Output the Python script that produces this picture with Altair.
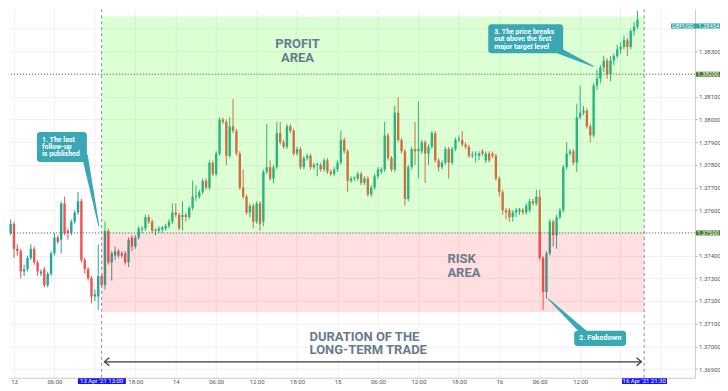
import altair as alt
import pandas as pd

# ---------------- data (GBPUSD, 30-minute candles) ----------------
open_p = [1.3750,1.3754,1.3743,1.3742,1.3733,1.3734,1.3739,1.3743,1.3737,1.3732,1.3734,
          1.3727,1.3732,1.3741,1.3748,1.3747,1.3763,1.3751,1.3750,1.3755,1.3759,
          1.3764,1.3738,1.3734,1.3730,1.3722,1.3722,1.3731,1.3727,1.3751,1.3737,
          1.3740,1.3742,1.3740,1.3741,1.3737,1.3748,1.3744,1.3748,1.37515,1.3752,
          1.3757,1.3755,1.3751,1.3751,1.37515,1.3752,1.3753,1.3755,1.3759,1.3758,
          1.3757,1.3758,1.3757,1.3761,1.3766,1.3766,1.3768,1.3773,1.3770,1.3781,
          1.3776,1.3785,1.3800,1.3799,1.3784,1.3797,1.3795,1.3785,1.3770,1.3766,
          1.3759,1.3762,1.3755,1.3763,1.3755,1.3777,1.3779,1.3774,1.3779,1.3794,
          1.3790,1.3788,1.3797,1.3795,1.3785,1.3787,1.3779,1.3783,1.3784,1.3779,
          1.3780,1.3780,1.3778,1.3782,1.3777,1.3776,1.3778,1.3781,1.3791,1.3786,
          1.3773,1.3774,1.3774,1.3776,1.3772,1.3774,1.3767,1.3770,1.3775,1.3777,
          1.3778,1.3793,1.3783,1.3778,1.3803,1.3791,1.3786,1.3765,1.3779,1.3787,
          1.3786,1.3786,1.3790,1.3785,1.3788,1.3794,1.3782,1.3779,1.3781,1.3787,
          1.3781,1.3787,1.3791,1.3791,1.3789,1.3788,1.3784,1.37845,1.3784,1.3786,
          1.3782,1.3785,1.3785,1.3784,1.3774,1.3768,1.3760,1.3760,1.3757,1.3759,
          1.37595,1.3760,1.3759,1.3760,1.3764,1.3763,1.3766,1.3739,1.3724,1.3741,
          1.3755,1.3749,1.3757,1.3760,1.3779,1.3785,1.3786,1.3781,1.3801,1.3803,
          1.3804,1.3797,1.3793,1.3815,1.3818,1.3823,1.3826,1.3820,1.3826,1.3828,
          1.3831,1.3832,1.3835,1.3832,1.3839,1.3841]
high_p = [1.3756,1.3755,1.3745,1.3743,1.3736,1.3740,1.3745,1.3744,1.3738,1.3734,1.3735,
          1.3733,1.3742,1.3750,1.3749,1.3764,1.3766,1.3752,1.3756,1.3760,1.3768,
          1.3765,1.3739,1.3735,1.3731,1.3725,1.3745,1.3732,1.3755,1.3752,1.3742,
          1.3744,1.3743,1.3742,1.3742,1.3748,1.3749,1.3749,1.3753,1.3753,1.3758,
          1.3758,1.3756,1.3752,1.3753,1.3753,1.3754,1.3756,1.3763,1.3763,1.3759,
          1.3764,1.3759,1.3762,1.3773,1.3771,1.3769,1.3774,1.3774,1.3782,1.3782,
          1.3786,1.3801,1.3801,1.3800,1.3801,1.3809,1.3796,1.3786,1.3778,1.3767,
          1.3763,1.3763,1.3764,1.3764,1.3778,1.3798,1.3782,1.3780,1.3799,1.3799,
          1.3791,1.3798,1.3798,1.3796,1.3788,1.3788,1.3784,1.3785,1.3785,1.3781,
          1.3781,1.3781,1.3783,1.3783,1.3778,1.3779,1.3782,1.3795,1.3792,1.3787,
          1.3775,1.3775,1.3777,1.3777,1.3775,1.3775,1.3771,1.3776,1.3779,1.3779,
          1.3799,1.3794,1.3784,1.3806,1.3810,1.3792,1.3787,1.3780,1.3788,1.3799,
          1.3808,1.3791,1.3791,1.3789,1.3795,1.3795,1.3783,1.3782,1.3788,1.3788,
          1.3788,1.3792,1.3793,1.3795,1.3790,1.3789,1.3786,1.3786,1.3786,1.3787,
          1.3786,1.3786,1.3786,1.3785,1.3775,1.3769,1.3761,1.3761,1.3760,1.3761,
          1.3761,1.3761,1.3763,1.3765,1.3765,1.3769,1.3769,1.3740,1.3742,1.3756,
          1.3756,1.3758,1.3761,1.3780,1.3790,1.3787,1.3787,1.3807,1.3815,1.3806,
          1.3805,1.3798,1.3816,1.3822,1.3824,1.3828,1.3827,1.3828,1.3829,1.3833,
          1.3834,1.3837,1.3836,1.3840,1.3843,1.3848]
low_p = [1.3749,1.3739,1.3740,1.3730,1.3731,1.3733,1.3738,1.3736,1.3731,1.3731,1.3726,
         1.3726,1.3731,1.3740,1.3745,1.3741,1.3749,1.3747,1.3749,1.3754,1.3758,
         1.3737,1.3732,1.3729,1.3719,1.3720,1.3716,1.3726,1.3725,1.3736,1.3729,
         1.3738,1.3739,1.3739,1.3736,1.3735,1.3742,1.3743,1.3747,1.3750,1.3751,
         1.3754,1.3750,1.3749,1.3750,1.3750,1.3751,1.3752,1.3754,1.3757,1.3751,
         1.3751,1.3755,1.3756,1.3760,1.3764,1.3765,1.3767,1.3769,1.3769,1.3775,
         1.3775,1.3784,1.3798,1.3780,1.3783,1.3794,1.3784,1.3769,1.3765,1.3758,
         1.3757,1.3752,1.3754,1.3751,1.3753,1.3776,1.3773,1.3772,1.3778,1.3789,
         1.3787,1.3787,1.3794,1.3784,1.3784,1.3778,1.3778,1.3782,1.3778,1.3778,
         1.3775,1.3777,1.3777,1.3776,1.3775,1.3775,1.3777,1.3780,1.3785,1.3768,
         1.3772,1.3773,1.3773,1.3771,1.3771,1.3766,1.3766,1.3769,1.3774,1.3776,
         1.3777,1.3782,1.3777,1.3777,1.3790,1.3785,1.3762,1.3764,1.3778,1.3780,
         1.3774,1.3785,1.3772,1.3780,1.3787,1.3781,1.3777,1.3778,1.3780,1.3774,
         1.3780,1.3786,1.3790,1.3788,1.3787,1.3783,1.3783,1.3781,1.3782,1.3784,
         1.3781,1.3781,1.3783,1.3773,1.3766,1.3758,1.3756,1.3755,1.3755,1.3757,
         1.3758,1.3758,1.3758,1.3759,1.3762,1.3762,1.3738,1.3716,1.3721,1.3740,
         1.3744,1.3743,1.3756,1.3759,1.3778,1.3784,1.3780,1.3777,1.3800,1.3802,
         1.3796,1.3790,1.3792,1.3813,1.3816,1.3821,1.3818,1.3817,1.3824,1.3827,
         1.3829,1.3831,1.3828,1.3831,1.3837,1.3840]
close_p = [1.3754,1.3743,1.3742,1.3733,1.3734,1.3739,1.3743,1.3737,1.3733,1.3733,1.3727,
           1.3732,1.3741,1.3748,1.3746,1.3763,1.3750,1.3750,1.3755,1.3759,1.3764,
           1.3738,1.3734,1.3730,1.3722,1.3723,1.3731,1.3727,1.3751,1.3737,1.3741,
           1.3742,1.3740,1.3741,1.3737,1.3747,1.3744,1.3748,1.3752,1.3752,1.3757,
           1.3755,1.3751,1.37515,1.3752,1.37525,1.3753,1.3755,1.3759,1.3758,1.3752,
           1.3758,1.3757,1.3761,1.3766,1.37665,1.3768,1.3773,1.3770,1.3781,1.3776,
           1.3785,1.3800,1.3799,1.3784,1.3797,1.3795,1.3785,1.3770,1.3766,1.3759,
           1.3762,1.3755,1.3763,1.3754,1.3777,1.3779,1.3774,1.3779,1.3794,1.3790,
           1.3788,1.3797,1.3795,1.3785,1.3787,1.3779,1.3783,1.3784,1.3779,1.3780,
           1.37805,1.3778,1.3782,1.3777,1.3776,1.3778,1.3781,1.3791,1.3786,1.3773,
           1.3774,1.37745,1.3776,1.3772,1.3774,1.3767,1.3770,1.3775,1.3778,1.3778,
           1.3793,1.3783,1.3778,1.3803,1.3791,1.3786,1.3765,1.3779,1.3787,1.3786,
           1.3787,1.3790,1.3785,1.3788,1.3794,1.3782,1.3779,1.3781,1.3787,1.3781,
           1.3787,1.3791,1.37915,1.3789,1.3788,1.3784,1.37845,1.3785,1.3785,1.3785,
           1.3785,1.3782,1.3784,1.3774,1.3768,1.3760,1.3759,1.3757,1.3759,1.3760,
           1.37605,1.3759,1.3762,1.3764,1.3763,1.3766,1.3739,1.3724,1.3741,1.3755,
           1.3749,1.3757,1.3760,1.3779,1.3785,1.3786,1.3781,1.3801,1.3803,1.3804,
           1.3797,1.3793,1.3815,1.3818,1.3823,1.3826,1.3820,1.3826,1.3828,1.3831,
           1.3832,1.3835,1.3832,1.3839,1.3841,1.3844]

times = pd.date_range("2021-04-12 23:30", periods=len(open_p), freq="30min").strftime("%Y-%m-%dT%H:%M:%S")

# labelled price ticks (1.375 / 1.382 / 1.384 are hidden behind the price tags)
price_ticks = [1.369, 1.370, 1.371, 1.372, 1.373, 1.374, 1.376, 1.377,
               1.378, 1.379, 1.380, 1.381, 1.383]
hidden_price_grid = [1.375, 1.382, 1.384]
# labelled time ticks (day, hour); some are hidden behind the date tags
time_ticks = [(13, 0), (13, 6), (13, 18), (14, 0), (14, 6), (14, 12), (14, 18),
              (15, 0), (15, 6), (15, 12), (15, 18), (16, 0), (16, 6), (16, 12)]
hidden_time_grid = ["2021-04-13T12:00:00", "2021-04-16T18:00:00", "2021-04-17T00:00:00"]

entry_time = "2021-04-13T13:00:00"
exit_time = "2021-04-16T21:30:00"
target_level = 1.382
entry_level = 1.375
profit_top = 1.38454
risk_bottom = 1.37152

df = pd.DataFrame({"t": times, "open": open_p, "high": high_p, "low": low_p, "close": close_p})
df["dir"] = ["up" if c >= o else "down" for o, c in zip(open_p, close_p)]

# ---------------- scales / axes ----------------
PLOT_W, PLOT_H = 687, 369
GRID = "#eef0f4"
x_scale = alt.Scale(domain=[alt.DateTime(year=2021, month=4, date=12, hours=23, minutes=15, seconds=33),
                            alt.DateTime(year=2021, month=4, date=17, hours=5, minutes=2, seconds=40)],
                    padding=0, nice=False)
y_scale = alt.Scale(domain=[1.368616, 1.384863], zero=False, nice=False, padding=0)

x_axis = alt.Axis(values=[alt.DateTime(year=2021, month=4, date=d, hours=h) for d, h in time_ticks],
                  labelExpr="hours(datum.value) == 0 ? timeFormat(datum.value, '%d') : timeFormat(datum.value, '%H:%M')",
                  grid=True, gridColor=GRID, ticks=False, domainColor="#c9ccd3",
                  labelColor="#50535e", labelFontSize=6, labelFont="Roboto", labelPadding=1,
                  labelBaseline="top", title=None, labelFlush=False, labelOverlap=False)
y_axis = alt.Axis(orient="right", values=price_ticks, format=".5f", grid=True, gridColor=GRID,
                  tickSize=2, tickColor="#b2b5be", domainColor="#c9ccd3", labelColor="#50535e",
                  labelFontSize=6, labelFont="Roboto", labelPadding=1.5, title=None, labelFlush=False)


def X(f):
    return alt.X(f, type="temporal", scale=x_scale, axis=x_axis, title=None)


def Y(f):
    return alt.Y(f, type="quantitative", scale=y_scale, axis=y_axis, title=None)


col = alt.Color("dir:N", scale=alt.Scale(domain=["up", "down"], range=["#26a69a", "#ef5350"]), legend=None)

# extra grid lines under the tags
grid_v = alt.Chart(pd.DataFrame({"t": hidden_time_grid})).mark_rule(color=GRID, strokeWidth=1).encode(x=X("t"))
grid_h = alt.Chart(pd.DataFrame({"p": hidden_price_grid})).mark_rule(color=GRID, strokeWidth=1).encode(y=Y("p"))

wicks = alt.Chart(df).mark_rule(strokeWidth=1).encode(x=X("t"), y=Y("low"), y2="high", color=col)
bodies = alt.Chart(df).mark_bar(width=2.4).encode(x=X("t"), y=Y("open"), y2="close", color=col)

# zones
profit_df = pd.DataFrame({"t1": [entry_time], "t2": [exit_time], "p1": [entry_level], "p2": [profit_top]})
risk_df = pd.DataFrame({"t1": [entry_time], "t2": [exit_time], "p1": [risk_bottom], "p2": [entry_level]})
profit = alt.Chart(profit_df).mark_rect(color="#33ff00", opacity=0.17).encode(x=X("t1"), x2="t2", y=Y("p1"), y2="p2")
risk = alt.Chart(risk_df).mark_rect(color="#ff1a1a", opacity=0.14).encode(x=X("t1"), x2="t2", y=Y("p1"), y2="p2")

# level lines
lvl_df = pd.DataFrame({"p": [target_level, entry_level]})
levels = alt.Chart(lvl_df).mark_rule(color="#4f6b3a", strokeDash=[1, 2], strokeWidth=1).encode(y=Y("p"))
vt_df = pd.DataFrame({"t": [entry_time, exit_time]})
vlines = alt.Chart(vt_df).mark_rule(color="#8c8aa8", strokeDash=[3, 3], strokeWidth=1).encode(x=X("t"))

# duration arrow
arrow_level = 1.36932
arr_df = pd.DataFrame({"t1": ["2021-04-13T13:25:00"], "t2": ["2021-04-16T21:05:00"], "p": [arrow_level]})
arrow = alt.Chart(arr_df).mark_rule(color="#3a3a3a", strokeWidth=1.2).encode(x=X("t1"), x2="t2", y=Y("p"))
head_l = alt.Chart(arr_df).mark_point(shape="M1.2,-1L0,0L1.2,1", filled=False, size=64, strokeWidth=1.2,
                                     color="#3a3a3a", opacity=1).encode(x=X("t1"), y=Y("p"))
head_r = alt.Chart(arr_df).mark_point(shape="M-1.2,-1L0,0L-1.2,1", filled=False, size=64, strokeWidth=1.2,
                                     color="#3a3a3a", opacity=1).encode(x=X("t2"), y=Y("p"))

# big labels (y = centre of the first line)
txt_color = "#697b8e"
profit_txt = alt.Chart(pd.DataFrame({"t": ["2021-04-14T18:04:00"], "p": [1.38332], "s": ["PROFIT\nAREA"]})).mark_text(
    font="Roboto", fontWeight="bold", fontSize=13, lineHeight=14, lineBreak="\n", color=txt_color,
    align="center", baseline="middle").encode(x=X("t"), y=Y("p"), text="s")
risk_txt = alt.Chart(pd.DataFrame({"t": ["2021-04-15T16:18:00"], "p": [1.37383], "s": ["RISK\nAREA"]})).mark_text(
    font="Roboto", fontWeight="bold", fontSize=13, lineHeight=14, lineBreak="\n", color=txt_color,
    align="left", baseline="middle").encode(x=X("t"), y=Y("p"), text="s")
dur_txt = alt.Chart(pd.DataFrame({"t": ["2021-04-14T19:51:00"], "p": [1.37043], "s": ["DURATION OF THE\nLONG-TERM TRADE"]})).mark_text(
    font="Roboto", fontWeight="bold", fontSize=13, lineHeight=13.5, lineBreak="\n", color=txt_color,
    align="left", baseline="middle").encode(x=X("t"), y=Y("p"), text="s")

# callouts
teal = "#3aa7b5"
box_df = pd.DataFrame({
    "t1": ["2021-04-13T03:24:00", "2021-04-15T22:22:00", "2021-04-16T11:07:00"],
    "t2": ["2021-04-13T10:49:00", "2021-04-16T09:29:00", "2021-04-16T18:49:00"],
    "p1": [1.37813, 1.38292, 1.37002],
    "p2": [1.37945, 1.38420, 1.37069],
})
boxes = alt.Chart(box_df).mark_rect(color=teal, cornerRadius=3).encode(x=X("t1"), x2="t2", y=Y("p1"), y2="p2")

tail_df = pd.DataFrame({
    "id": ["a", "a", "b", "b", "c", "c"],
    "o": [0, 1, 0, 1, 0, 1],
    "t": ["2021-04-13T10:31:00", "2021-04-13T12:35:00",
          "2021-04-16T09:02:00", "2021-04-16T13:56:00",
          "2021-04-16T12:36:00", "2021-04-16T07:16:00"],
    "p": [1.37839, 1.37531, 1.38301, 1.38235, 1.37060, 1.37209],
    "w": [6, 1, 6, 1, 6, 1],
})
tails = alt.Chart(tail_df).mark_trail(color=teal).encode(
    x=X("t"), y=Y("p"), size=alt.Size("w:Q", scale=None, legend=None), detail="id:N", order="o:Q")

c1 = alt.Chart(pd.DataFrame({"t": ["2021-04-13T04:09:00"], "p": [1.37910],
                             "s": ["1. The last\nfollow-up\nis published"]})).mark_text(
    font="Roboto", fontWeight="bold", fontSize=7, lineHeight=7.2, lineBreak="\n", color="white",
    align="left", baseline="middle").encode(x=X("t"), y=Y("p"), text="s")
c3 = alt.Chart(pd.DataFrame({"t": ["2021-04-15T23:15:00"], "p": [1.38385],
                             "s": ["3. The price breaks\nout above the first\nmajor target level"]})).mark_text(
    font="Roboto", fontWeight="bold", fontSize=7, lineHeight=7.2, lineBreak="\n", color="white",
    align="left", baseline="middle").encode(x=X("t"), y=Y("p"), text="s")
c2 = alt.Chart(pd.DataFrame({"t": ["2021-04-16T14:58:00"], "p": [1.37035], "s": ["2. Fakedown"]})).mark_text(
    font="Roboto", fontWeight="bold", fontSize=7.5, color="white",
    align="center", baseline="middle").encode(x=X("t"), y=Y("p"), text="s")

# date tags under the axis
tl_df = pd.DataFrame({"t1": ["2021-04-13T09:29:00", "2021-04-16T18:13:00"],
                      "t2": ["2021-04-13T16:36:00", "2021-04-17T00:53:00"],
                      "t": [entry_time, exit_time],
                      "s": ["13 Apr '21   13:00", "16 Apr '21   21:30"]})
tl_box = alt.Chart(tl_df).mark_rect(color="#1414ff").encode(x=X("t1"), x2="t2", y=alt.value(369.5), y2=alt.value(375.5))
tl_txt = alt.Chart(tl_df).mark_text(font="Roboto", fontSize=6, color="white", align="center",
                                    baseline="middle").encode(x=X("t"), y=alt.value(372.7), text="s")

# price tags on the right axis
pl_df = pd.DataFrame({"p": [target_level, entry_level], "s": ["1.38200", "1.37500"],
                      "p1": [target_level - 0.00011, entry_level - 0.00011],
                      "p2": [target_level + 0.00011, entry_level + 0.00011]})
pl_box = alt.Chart(pl_df).mark_rect(color="#4a7a2c").encode(x=alt.value(PLOT_W + 1), x2=alt.value(PLOT_W + 25), y=Y("p1"), y2="p2")
pl_txt = alt.Chart(pl_df).mark_text(font="Roboto", fontSize=6, color="white", align="center",
                                    baseline="middle").encode(x=alt.value(PLOT_W + 13), y=Y("p"), text="s")

last_df = pd.DataFrame({"p": [1.38413], "p1": [1.38402], "p2": [1.38424], "s": ["GBPUSD · 1.38454"]})
last_box = alt.Chart(last_df).mark_rect(color="#26a69a").encode(x=alt.value(PLOT_W - 24), x2=alt.value(PLOT_W + 25), y=Y("p1"), y2="p2")
last_txt = alt.Chart(last_df).mark_text(font="Roboto", fontSize=5.8, color="white", align="center",
                                        baseline="middle").encode(x=alt.value(PLOT_W + 0.5), y=Y("p"), text="s")

chart = alt.layer(
    grid_v, grid_h, wicks, bodies, profit, risk, levels, vlines, arrow, head_l, head_r,
    profit_txt, risk_txt, dur_txt, tails, boxes, c1, c3, c2,
    tl_box, tl_txt, pl_box, pl_txt, last_box, last_txt
).properties(
    width=PLOT_W, height=PLOT_H, padding={"left": 0, "top": 0, "right": -1, "bottom": -1}, background="white"
).configure_view(strokeWidth=0)

chart.save("out.html", embed_options={"renderer": "svg", "actions": False})
